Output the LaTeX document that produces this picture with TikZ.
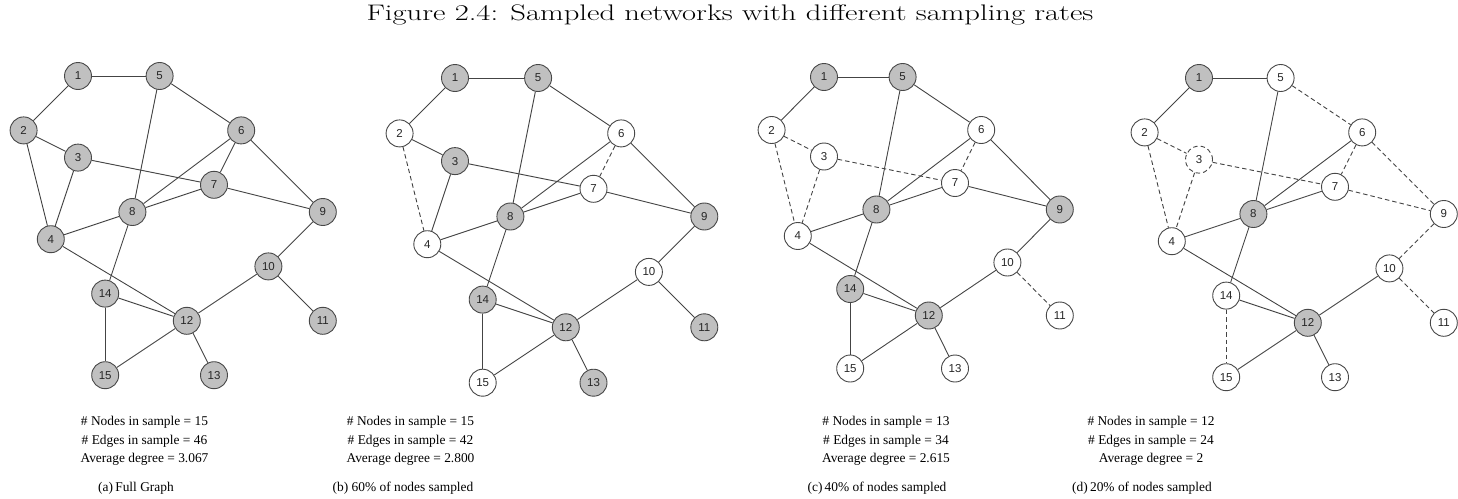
\documentclass[tikz,border=0pt]{standalone}
\usepackage{fontspec}
\newfontfamily\vlabelfont{Liberation Sans}
\newfontfamily\statsfont{Liberation Serif}
\definecolor{nodegray}{RGB}{192,192,192}
\definecolor{rimgray}{RGB}{72,72,72}
\definecolor{edgegray}{RGB}{68,68,68}
\tikzset{
  vtx/.style={circle, draw=rimgray, line width=0.9pt, fill=white, minimum size=27pt,
    inner sep=0pt, font=\vlabelfont\fontsize{11.5}{11.5}\selectfont, text=black!85},
  sampled/.style={fill=nodegray},
  edge/.style={draw=edgegray, line width=0.9pt},
  hidden/.style={dash pattern=on 4.5pt off 3pt},
  stats/.style={align=center, font=\statsfont\fontsize{13.4}{18.7}\selectfont},
  subcap/.style={font=\statsfont\fontsize{13.4}{15}\selectfont},
}
% one copy of the 15-vertex network: prefix, origin x, origin y, grid step x, grid step y
\newcommand\samplegraph[5]{%
  \begin{scope}[shift={(#2,#3)}, x=#4pt, y=-#5pt]
    \foreach \k/\i/\j in {1/0/0,5/3/0,2/-2/2,6/6/2,3/0/3,7/5/4,8/2/5,9/9/5,4/-1/6,
                          10/7/7,14/1/8,12/4/9,11/9/9,15/1/11,13/5/11}
      \node[vtx, v\k/.try] (#1\k) at (\i,\j) {\k};
  \end{scope}
  \foreach \u/\w in {1/5,1/2,5/6,5/8,2/3,2/4,3/4,3/7,6/7,6/8,6/9,7/8,7/9,8/4,8/14,
                     9/10,10/11,10/12,4/12,14/12,14/15,12/15,12/13}
    \draw[edge, e\u-\w/.try] (#1\u) -- (#1\w);
}
\begin{document}
\begin{tikzpicture}[x=1pt, y=-1pt]
\useasboundingbox (0,0) rectangle (1458,498);

\node[inner sep=0pt] (title) at (730,14.5) {\scalebox{1.36}[1]{\fontsize{22.5}{24}\selectfont Figure 2.4: Sampled networks with different sampling rates}};

% (a) full graph
\begin{scope}[vtx/.append style=sampled]
  \samplegraph{a}{78}{76}{27.2}{27.2}
\end{scope}
\node[stats] (statsA) at (144.5,441) {\# Nodes in sample = 15\\ \# Edges in sample = 46\\ Average degree = 3.067};
\node[subcap] (capA) at (136,488) {(a)\,Full Graph};

% (b) 60% sampled
\begin{scope}[v1/.style=sampled, v5/.style=sampled, v3/.style=sampled, v8/.style=sampled,
  v9/.style=sampled, v14/.style=sampled, v12/.style=sampled, v11/.style=sampled, v13/.style=sampled,
  e2-4/.style=hidden, e6-7/.style=hidden]
  \samplegraph{b}{455}{78}{27.7}{27.7}
\end{scope}
\node[stats] (statsB) at (410.5,441) {\# Nodes in sample = 15\\ \# Edges in sample = 42\\ Average degree = 2.800};
\node[subcap] (capB) at (403,488) {(b) 60\% of nodes sampled};

% (c) 40% sampled
\begin{scope}[v1/.style=sampled, v5/.style=sampled, v8/.style=sampled,
  v9/.style=sampled, v14/.style=sampled, v12/.style=sampled,
  e2-3/.style=hidden, e2-4/.style=hidden, e3-4/.style=hidden, e3-7/.style=hidden,
  e6-7/.style=hidden, e10-11/.style=hidden]
  \samplegraph{c}{824}{77}{26.2}{26.5}
\end{scope}
\node[stats] (statsC) at (886,441) {\# Nodes in sample = 13\\ \# Edges in sample = 34\\ Average degree = 2.615};
\node[subcap] (capC) at (877,488) {(c)\,40\% of nodes sampled};

% (d) 20% sampled
\begin{scope}[v1/.style=sampled, v8/.style=sampled, v12/.style=sampled, v3/.style=hidden,
  e5-6/.style=hidden, e2-3/.style=hidden, e2-4/.style=hidden, e3-4/.style=hidden,
  e3-7/.style=hidden, e6-7/.style=hidden, e6-9/.style=hidden, e7-9/.style=hidden,
  e9-10/.style=hidden, e10-11/.style=hidden, e14-15/.style=hidden]
  \samplegraph{d}{1199}{78}{27.2}{27.2}
\end{scope}
\node[stats] (statsD) at (1151,441) {\# Nodes in sample = 12\\ \# Edges in sample = 24\\ Average degree = 2};
\node[subcap] (capD) at (1142,488) {(d)\,20\% of nodes sampled};
\end{tikzpicture}
\end{document}
